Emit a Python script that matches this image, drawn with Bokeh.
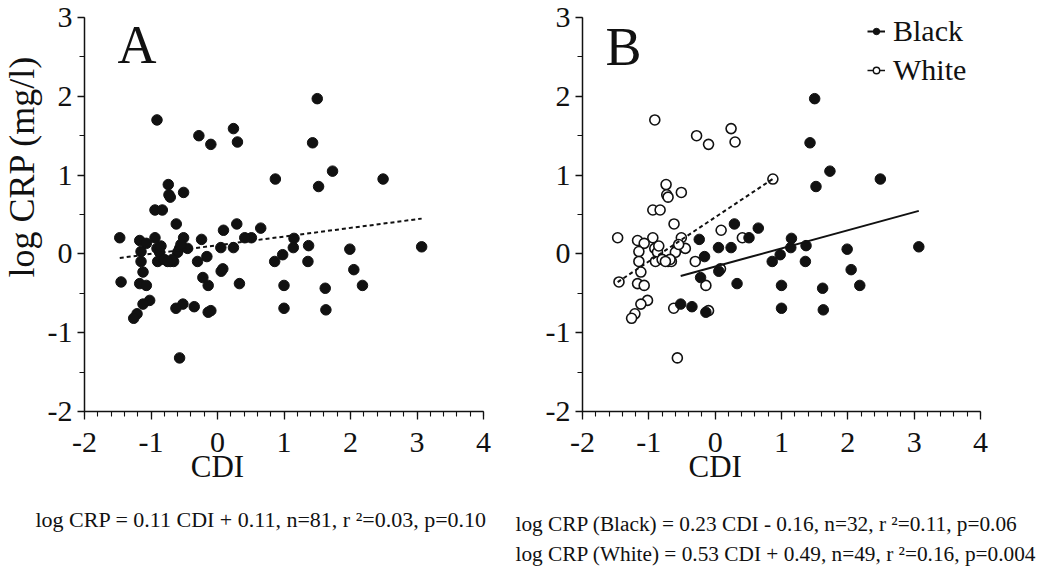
import numpy as np
from bokeh.plotting import figure
from bokeh.models import (Range1d, SingleIntervalTicker, Label, Legend, LegendItem, LinearAxis)
from bokeh.layouts import row
from bokeh.embed import file_html
from bokeh.resources import INLINE

FONT = "Liberation Serif"
INK = "#111111"

# ---- data (CDI, log CRP) ----
cdi_black = [1.50, 1.43, 1.73, 1.52, 2.49, 0.29, 0.65, 0.51, 1.15, -0.24, 0.05, 0.24,
             1.14, 1.37, 1.99, 3.07, -0.16, 0.98, 0.86, 1.36, 0.055, 2.05, -0.22, 0.33,
             1.00, 1.62, 2.18, -0.52, -0.35, -0.14, 1.00, 1.63]
crp_black = [1.97, 1.41, 1.05, 0.855, 0.95, 0.38, 0.327, 0.205, 0.197, 0.184, 0.08, 0.08,
             0.08, 0.105, 0.06, 0.09, -0.034, -0.01, -0.096, -0.096, -0.22, -0.20, -0.30, -0.377,
             -0.40, -0.436, -0.40, -0.637, -0.67, -0.74, -0.69, -0.71]

cdi_white = [-1.47, -1.45, -0.91, -0.28, -0.10, 0.24, 0.30, 0.87, -0.74, -0.73, -0.71, -0.51,
             -0.94, -0.83, -0.62, 0.09, 0.41, -0.94, -1.17, -1.07, -0.51, -1.15, -0.91, -0.87,
             -0.57, -0.60, -0.45, -1.15, -0.90, -0.80, -0.71, -0.66, -0.30, -1.12, 0.08, -1.17,
             -1.07, -0.14, -1.02, -1.12, -1.21, -1.26, -0.625, -0.10, -0.57,
             -0.55, -0.85, -0.68, -0.75]
crp_white = [0.205, -0.356, 1.70, 1.50, 1.39, 1.59, 1.42, 0.95, 0.88, 0.75, 0.72, 0.78,
             0.557, 0.557, 0.38, 0.30, 0.205, 0.205, 0.17, 0.134, 0.205, 0.03, 0.07, 0.02,
             0.07, 0.02, 0.07, -0.096, -0.096, -0.07, -0.096, -0.096, -0.096, -0.23, -0.19, -0.377,
             -0.40, -0.40, -0.59, -0.637, -0.76, -0.817, -0.69, -0.72, -1.32,
             0.12, 0.10, -0.07, -0.096]

# regression lines (slope, intercept)
fit_all = [0.11, 0.11]
fit_black = [0.23, -0.16]
fit_white = [0.56, 0.465]

x_lim = [-2, 4]
y_lim = [-2, 3]
tick_overrides = {-2: "-2", -1: "-1"}

eq_all = "log CRP = 0.11 CDI + 0.11, n=81, r \u00b2=0.03, p=0.10"
eq_black = "log CRP (Black) = 0.23 CDI - 0.16, n=32, r \u00b2=0.11, p=0.06"
eq_white = "log CRP (White) = 0.53 CDI + 0.49, n=49, r \u00b2=0.16, p=0.004"

# ---- layout (page pixels) ----
H = 566
TOP_PX, BOT_PX = 17, 411          # pixel rows of y=3 and y=-2


def base_fig(canvas_left, canvas_width, ax_left_px, ax_right_px):
    xs = (ax_right_px - ax_left_px) / (x_lim[1] - x_lim[0])
    ys = (BOT_PX - TOP_PX) / (y_lim[1] - y_lim[0])
    xr = Range1d(x_lim[0] - (ax_left_px - canvas_left) / xs,
                 x_lim[1] + (canvas_left + canvas_width - ax_right_px) / xs)
    yr = Range1d(y_lim[0] - (H - BOT_PX) / ys, y_lim[1] + TOP_PX / ys)
    p = figure(width=canvas_width, height=H, x_range=xr, y_range=yr,
               output_backend="svg", toolbar_location=None,
               x_axis_location=None, y_axis_location=None,
               min_border=0, min_border_left=0, min_border_right=0,
               min_border_top=0, min_border_bottom=0)
    p.outline_line_color = None
    p.grid.visible = False
    p.background_fill_color = "white"
    p.border_fill_color = "white"

    xaxis = LinearAxis(fixed_location=y_lim[0], bounds=tuple(x_lim),
                       ticker=SingleIntervalTicker(interval=1, num_minor_ticks=5))
    yaxis = LinearAxis(fixed_location=x_lim[0], bounds=tuple(y_lim),
                       ticker=SingleIntervalTicker(interval=1, num_minor_ticks=2))
    for ax in (xaxis, yaxis):
        ax.axis_line_color = INK
        ax.axis_line_width = 1.5
        ax.major_tick_line_color = INK
        ax.minor_tick_line_color = INK
        ax.major_tick_line_width = 1.3
        ax.minor_tick_line_width = 1.1
        ax.major_tick_in = 0
        ax.minor_tick_in = 0
        ax.major_label_text_font = FONT
        ax.major_label_text_font_size = "30px"
        ax.major_label_text_color = INK
        ax.major_label_overrides = tick_overrides
    xaxis.major_tick_out = 8
    xaxis.minor_tick_out = 5
    xaxis.major_label_standoff = 13
    yaxis.major_tick_out = 7
    yaxis.minor_tick_out = 5
    yaxis.major_label_standoff = 5
    p.add_layout(xaxis, "below")
    p.add_layout(yaxis, "left")

    def lab(page_x, page_y, text, size, align="left", angle=0.0):
        p.add_layout(Label(x=page_x - canvas_left, y=H - page_y,
                           x_units="screen", y_units="screen", text=text, angle=angle,
                           text_font=FONT, text_font_size=size, text_color=INK,
                           text_align=align, text_baseline="middle"))
    lab(ax_left_px + 2 * xs, 466, "CDI", "31px", align="center")
    return p, lab


def fit_line(xs, fit):
    xl = np.array([min(xs), max(xs)])
    return xl, fit[0] * xl + fit[1]


# ---- Panel A ----
pA, labA = base_fig(0, 505, 84, 483)
cdi_all = cdi_black + cdi_white
crp_all = crp_black + crp_white
pA.scatter(cdi_all, crp_all, size=10.5, marker="circle", fill_color=INK, line_color=INK)
xl, yl = fit_line(cdi_all, fit_all)
pA.line(xl, yl, line_color=INK, line_width=2, line_dash="4 3")
labA(117, 44, "A", "54px")
labA(21, 166, "log CRP (mg/l)", "36px", align="center", angle=np.pi / 2)
labA(35, 519, eq_all, "22px")

# ---- Panel B ----
pB, labB = base_fig(505, 545, 582, 980)
rw = pB.scatter(cdi_white, crp_white, size=10, marker="circle", fill_color="white",
                line_color=INK, line_width=1.6)
rb = pB.scatter(cdi_black, crp_black, size=10.5, marker="circle", fill_color=INK, line_color=INK)
xw, yw = fit_line(cdi_white, fit_white)
pB.line(xw, yw, line_color=INK, line_width=2, line_dash="4 3")
xb, yb = fit_line(cdi_black, fit_black)
pB.line(xb, yb, line_color=INK, line_width=2)

nan = [float("nan")]
lg_line_b = pB.line(nan, nan, line_color=INK, line_width=2)
lg_dot_b = pB.scatter(nan, nan, size=8, marker="circle", fill_color=INK, line_color=INK)
lg_line_w = pB.line(nan, nan, line_color=INK, line_width=1.5)
lg_dot_w = pB.scatter(nan, nan, size=8, marker="circle", fill_color="white", line_color=INK,
                      line_width=1.4)
legend = Legend(items=[LegendItem(label="Black", renderers=[lg_line_b, lg_dot_b]),
                       LegendItem(label="White", renderers=[lg_line_w, lg_dot_w])],
                location=(867 - 505, H - 16 - 71), glyph_width=18, glyph_height=16,
                label_standoff=8, spacing=5, padding=0, margin=0, border_line_color=None,
                background_fill_alpha=0, label_text_font=FONT,
                label_text_font_size="30px", label_text_color=INK)
pB.add_layout(legend)

labB(605, 46, "B", "54px")
labB(515, 523, eq_black, "21.3px")
labB(515, 553, eq_white, "21.3px")

layout = row(pA, pB)
open("out.html", "w").write(file_html(layout, INLINE))
